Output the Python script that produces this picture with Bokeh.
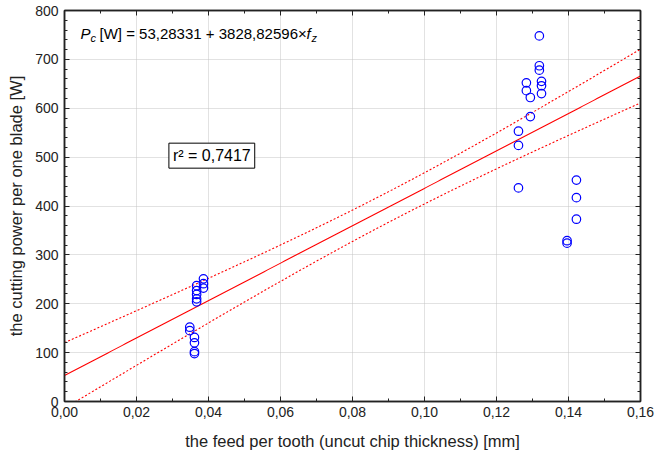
import numpy as np
from bokeh.plotting import figure
from bokeh.models import (ColumnDataSource, Label, LinearAxis, FixedTicker, Range1d)
from bokeh.embed import file_html
from bokeh.resources import INLINE

# ---- data ----
feed = [0.0386, 0.0386, 0.0386,
        0.0367, 0.0367, 0.0367, 0.0367, 0.0367,
        0.0348, 0.0348,
        0.0361, 0.0361, 0.0361, 0.0361,
        0.1261, 0.1261, 0.1261,
        0.1283, 0.1283,
        0.1294, 0.1294,
        0.1319, 0.1319, 0.1319,
        0.1325, 0.1325, 0.1325,
        0.1396, 0.1396,
        0.1422, 0.1422, 0.1422]
power = [251, 241, 232,
         237, 227, 219, 210, 204,
         152, 145,
         131, 120, 102, 98,
         553, 524, 437,
         652, 636,
         622, 583,
         748, 687, 678,
         655, 646, 630,
         329, 324,
         453, 417, 373]

intercept = 53.28331
slope = 3828.82596
r2_text = "r² = 0,7417"
t_band = 1.53   # band multiplier matched to the reference's dotted band

x_ticks = [0.0, 0.02, 0.04, 0.06, 0.08, 0.10, 0.12, 0.14, 0.16]
x_tick_labels = ["0,00", "0,02", "0,04", "0,06", "0,08", "0,10", "0,12", "0,14", "0,16"]
y_ticks = [0, 100, 200, 300, 400, 500, 600, 700, 800]

FONT = "Liberation Sans"

# regression line and confidence band of the mean
xs = np.array(feed)
ys = np.array(power)
n = len(xs)
resid = ys - (intercept + slope * xs)
s = np.sqrt(np.sum(resid ** 2) / (n - 2))
xbar = xs.mean()
sxx = np.sum((xs - xbar) ** 2)
xl = np.linspace(0.0, 0.16, 200)
yl = intercept + slope * xl
hw = t_band * s * np.sqrt(1.0 / n + (xl - xbar) ** 2 / sxx)

p = figure(width=655, height=458, output_backend="svg", toolbar_location=None,
           x_range=Range1d(0, 0.16), y_range=Range1d(0, 800),
           frame_width=576, frame_height=391,
           min_border_left=64, min_border_right=15, min_border_top=10,
           min_border_bottom=57)
p.background_fill_color = "white"
p.border_fill_color = "white"
p.outline_line_color = "#222222"
p.outline_line_width = 1.5

# grid
for g in (p.xgrid, p.ygrid):
    g.grid_line_color = "#c4c4c4"
    g.grid_line_dash = "1 1"
    g.grid_line_width = 1
p.xgrid.ticker = FixedTicker(ticks=x_ticks)
p.ygrid.ticker = FixedTicker(ticks=y_ticks)

x_minor = [0.01 * i for i in range(17)]
y_minor = list(range(0, 801, 20))

def style_axis(ax, ticks, minor, show_labels):
    ax.ticker = FixedTicker(ticks=ticks, minor_ticks=minor)
    ax.major_tick_in = 5
    ax.major_tick_out = 0
    ax.minor_tick_in = 3
    ax.minor_tick_out = 0
    ax.axis_line_color = "#222222"
    ax.axis_line_width = 1.5
    ax.major_tick_line_color = "#222222"
    ax.minor_tick_line_color = "#222222"
    if show_labels:
        ax.major_label_text_font = FONT
        ax.major_label_text_font_size = "14px"
        ax.major_label_text_color = "#222222"
        ax.axis_label_text_font = FONT
        ax.axis_label_text_font_size = "16.5px"
        ax.axis_label_text_font_style = "normal"
        ax.axis_label_text_color = "#222222"
    else:
        ax.major_label_text_font_size = "0px"
        ax.major_label_standoff = 0
        ax.axis_label = None

xa = p.xaxis[0]
style_axis(xa, x_ticks, x_minor, True)
xa.major_label_overrides = {t: l for t, l in zip(x_ticks, x_tick_labels)}
xa.axis_label = "the feed per tooth (uncut chip thickness) [mm]"
xa.major_label_standoff = 5
xa.axis_label_standoff = 12

ya = p.yaxis[0]
style_axis(ya, y_ticks, y_minor, True)
ya.axis_label = "the cutting power per one blade [W]"
ya.major_label_standoff = 6
ya.axis_label_standoff = 7

top = LinearAxis()
style_axis(top, x_ticks, x_minor, False)
p.add_layout(top, "above")
right = LinearAxis()
style_axis(right, y_ticks, y_minor, False)
p.add_layout(right, "right")

# lines
p.line(xl, yl, line_color="#ff0000", line_width=1.1)
p.line(xl, yl + hw, line_color="#ff0000", line_width=1.1, line_dash="2 2")
p.line(xl, yl - hw, line_color="#ff0000", line_width=1.1, line_dash="2 2")

# points
src = ColumnDataSource(dict(x=feed, y=power))
p.scatter("x", "y", source=src, marker="circle", size=8.5, fill_color=None,
          line_color="#0000ff", line_width=1.2)

# equation
ex, ey = 0.00444, 752
p.add_layout(Label(x=ex, y=ey, text="P", text_font=FONT, text_font_size="15px",
                   text_font_style="italic", text_baseline="middle", text_color="black"))
p.add_layout(Label(x=ex, y=ey, x_offset=10, y_offset=-4, text="c", text_font=FONT,
                   text_font_size="11px", text_font_style="italic",
                   text_baseline="middle", text_color="black"))
p.add_layout(Label(x=ex, y=ey, x_offset=19, text="[W] = 53,28331 + 3828,82596×",
                   text_font=FONT, text_font_size="15px", text_baseline="middle",
                   text_color="black"))
p.add_layout(Label(x=ex, y=ey, x_offset=226, text="f", text_font=FONT,
                   text_font_size="15px", text_font_style="italic",
                   text_baseline="middle", text_color="black"))
p.add_layout(Label(x=ex, y=ey, x_offset=231, y_offset=-4, text="z", text_font=FONT,
                   text_font_size="11px", text_font_style="italic",
                   text_baseline="middle", text_color="black"))

# r^2 box
p.add_layout(Label(x=0.0290, y=503, text=r2_text, text_font=FONT, text_font_size="16px",
                   text_baseline="middle", text_color="black",
                   background_fill_color="white", border_line_color="black",
                   border_line_width=1, padding=4))

open("out.html", "w").write(file_html(p, INLINE))
